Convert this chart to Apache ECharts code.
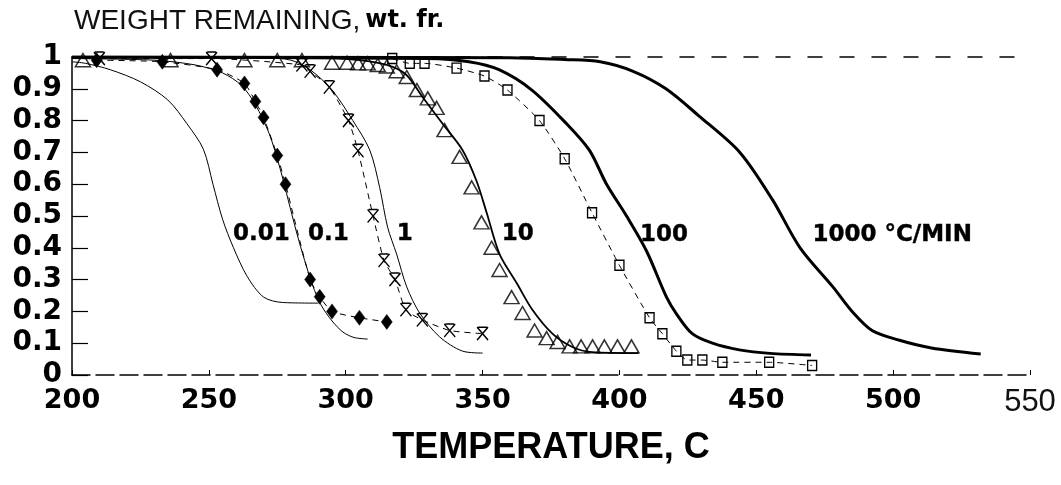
<!DOCTYPE html>
<html><head><meta charset="utf-8">
<script src="https://cdn.jsdelivr.net/npm/echarts@6/dist/echarts.min.js"></script>
<style>html,body{margin:0;padding:0;background:#fff}#c{width:1061px;height:485px}</style>
</head><body><div id="c"></div>
<script>
// ---- data (temperature °C, weight fraction) ----
const xTickValues = [200, 250, 300, 350, 400, 450, 500, 550];
const xTickLabels = ['200', '250', '300', '350', '400', '450', '500', '550'];
const yTickLabels = ['0', '0.1', '0.2', '0.3', '0.4', '0.5', '0.6', '0.7', '0.8', '0.9', '1'];

const rate001Line = [[200,0.985],[205,0.98],[214,0.96],[225,0.922],[235,0.865],[242,0.79],[248,0.71],[251.5,0.60],[255,0.49],[259,0.40],[264,0.31],[270,0.245],[277,0.228],[290,0.226]];
const rate01Line = [[200,0.995],[230,0.99],[245,0.975],[255,0.95],[262,0.91],[267,0.85],[272,0.76],[276,0.65],[279,0.55],[282,0.45],[285,0.36],[288,0.28],[291,0.22],[295,0.17],[299,0.135],[303,0.118],[308,0.113]];
const rate01Points = [[209,0.99],[233,0.985],[253,0.96],[263,0.917],[267,0.86],[270,0.81],[275,0.69],[278,0.60],[287,0.30],[290.5,0.246],[295,0.20],[305,0.18],[315,0.167]];
const rate1Line = [[200,1.0],[270,0.998],[280,0.99],[287,0.96],[295,0.896],[302.6,0.80],[308.8,0.707],[312.4,0.59],[315.3,0.465],[318.6,0.38],[322.3,0.277],[327,0.195],[334.3,0.12],[342.7,0.075],[350,0.069]];
const rate1Points = [[210,0.995],[251,0.995],[284,0.975],[287,0.955],[294,0.905],[301,0.80],[304.5,0.705],[310,0.50],[314,0.36],[318,0.30],[322,0.205],[328,0.173],[338,0.14],[350,0.13]];
const rate10Line = [[200,1.0],[290,0.998],[305,0.99],[315,0.975],[322,0.945],[328,0.875],[335.4,0.79],[342.7,0.707],[347.8,0.61],[351.5,0.51],[356.2,0.38],[362.4,0.29],[368.2,0.205],[375.5,0.13],[382.8,0.088],[390,0.072],[407,0.069]];
const rate10Points = [[204,0.99],[236,0.99],[263,0.99],[275,0.99],[284,0.99],[295,0.982],[300.5,0.982],[304.5,0.98],[308,0.98],[311.7,0.975],[315,0.97],[318.6,0.955],[322.3,0.937],[326,0.896],[330,0.87],[333.2,0.84],[336.1,0.77],[341.6,0.686],[346,0.59],[349.6,0.48],[353.3,0.40],[356.2,0.33],[360.6,0.245],[364.6,0.195],[369,0.14],[373.4,0.116],[377.4,0.104],[381.8,0.09],[386,0.09],[390.2,0.09],[394.5,0.09],[399.3,0.09],[404.4,0.09]];
const rate100Line = [[200,1.0],[330,0.995],[345,0.985],[356,0.96],[368,0.896],[380.7,0.79],[389,0.707],[395.3,0.60],[402.6,0.50],[409.9,0.39],[417.2,0.245],[421,0.19],[426.6,0.13],[434,0.10],[443.8,0.079],[455,0.068],[470,0.063]];
const rate100Points = [[317,0.995],[323.4,0.98],[328.8,0.98],[340.5,0.965],[350.7,0.94],[359.1,0.896],[370.8,0.80],[380,0.68],[390,0.51],[400,0.345],[411,0.18],[415.7,0.13],[420.8,0.075],[424.8,0.047],[430.3,0.047],[437.6,0.04],[454.7,0.04],[470.4,0.03]];
const rate1000Line = [[200,1.0],[360,0.998],[380,0.992],[393,0.985],[405,0.955],[417,0.90],[429,0.815],[444,0.70],[456,0.55],[466,0.40],[478,0.277],[485,0.20],[492.3,0.14],[502,0.11],[514,0.085],[532,0.066]];
const curveLabels = [[258.8,0.443,'0.01'],[286.2,0.443,'0.1'],[318.6,0.443,'1'],[357,0.443,'10'],[407.5,0.44,'100'],[470.5,0.44,'1000 \u00B0C/MIN']];

// ---- chart ----
const chart = echarts.init(document.getElementById('c'));
const K = '#000';
function solid(name, data, width) {
  return { name, type: 'line', data, showSymbol: false, symbol: 'none', smooth: 0.3,
    lineStyle: { color: K, width }, z: 3 };
}
function dashedMarked(name, data, symbol, size, filled) {
  return { name, type: 'line', data, symbol, symbolSize: size, showAllSymbol: true, smooth: 0.2,
    lineStyle: { color: K, width: 1, type: [6, 5] },
    itemStyle: filled ? { color: K, borderColor: K, borderWidth: 0.5 } : { color: 'none', borderColor: K, borderWidth: 1.4 },
    z: 4 };
}
const xPath = 'path://M0,0L10,12M10,0L0,12M1,0L9,0';
const option = {
  animation: false,
  backgroundColor: '#fff',
  title: {
    text: '{a|WEIGHT REMAINING,} {b|wt. fr.}', left: 74, top: 7, padding: 0,
    textStyle: { fontWeight: 'normal', rich: {
      a: { fontFamily: 'Liberation Sans', fontWeight: 'normal', fontSize: 28, color: '#111' },
      b: { fontFamily: 'DejaVu Sans', fontWeight: 'bold', fontSize: 24, color: K }
    } }
  },
  grid: { left: 72, right: 31, top: 57, bottom: 110 },
  xAxis: [{
    type: 'value', min: 200, max: 550, interval: 50,
    axisLine: { lineStyle: { color: K, width: 1.5, type: [18, 6] } },
    axisTick: { inside: true, length: 5, lineStyle: { color: K, width: 1 } },
    splitLine: { show: false },
    axisLabel: {
      margin: 12, showMinLabel: true, showMaxLabel: true,
      fontFamily: 'DejaVu Sans', fontWeight: 'bold', fontSize: 27, color: K,
      formatter: v => { const i = xTickValues.indexOf(v); const t = i >= 0 ? xTickLabels[i] : ''; return v === 550 ? '{n|' + t + '}' : t; },
      rich: { n: { fontFamily: 'Liberation Sans', fontWeight: 'normal', fontSize: 31, color: '#111' } }
    },
    name: 'TEMPERATURE, C', nameLocation: 'middle', nameGap: 55,
    nameTextStyle: { fontFamily: 'Liberation Sans', fontWeight: 'bold', fontSize: 36, color: K }
  }, {
    type: 'value', position: 'top', min: 200, max: 550,
    axisLine: { show: true, lineStyle: { color: K, width: 1.5, type: [14, 18] } },
    axisTick: { show: false }, axisLabel: { show: false }, splitLine: { show: false }
  }],
  yAxis: {
    type: 'value', min: 0, max: 1, interval: 0.1,
    axisLine: { show: true, lineStyle: { color: K, width: 1.5 } },
    axisTick: { show: true, inside: true, length: 16, lineStyle: { color: K, width: 1.2 } },
    splitLine: { show: false },
    axisLabel: { margin: 10, showMinLabel: true, showMaxLabel: true,
      fontFamily: 'DejaVu Sans', fontWeight: 'bold', fontSize: 28, color: K,
      formatter: v => yTickLabels[Math.round(v * 10)] }
  },
  series: [
    solid('0.01 line', rate001Line, 1),
    solid('0.1 line', rate01Line, 1),
    dashedMarked('0.1 data', rate01Points, 'diamond', [11, 15], true),
    solid('1 line', rate1Line, 1),
    dashedMarked('1 data', rate1Points, xPath, [11, 13], false),
    solid('10 line', rate10Line, 1.8),
    { name: '10 data', type: 'scatter', data: rate10Points, symbol: 'triangle', symbolSize: [15, 13],
      itemStyle: { color: 'none', borderColor: K, borderWidth: 1.5 }, z: 4 },
    solid('100 line', rate100Line, 3),
    dashedMarked('100 data', rate100Points, 'rect', [9, 10], false),
    solid('1000 line', rate1000Line, 3),
    { name: 'labels', type: 'scatter', symbolSize: 0, silent: true, z: 6,
      itemStyle: { opacity: 1 },
      data: curveLabels.map(d => ({ value: [d[0], d[1]], name: d[2] })),
      label: { show: true, position: 'right', distance: 0, formatter: p => p.name, opacity: 1,
        fontFamily: 'DejaVu Sans', fontWeight: 'bold', fontSize: 23, color: '#000',
        textBorderColor: '#000', textBorderWidth: 0.4 } }
  ]
};
chart.setOption(option);
</script></body></html>
